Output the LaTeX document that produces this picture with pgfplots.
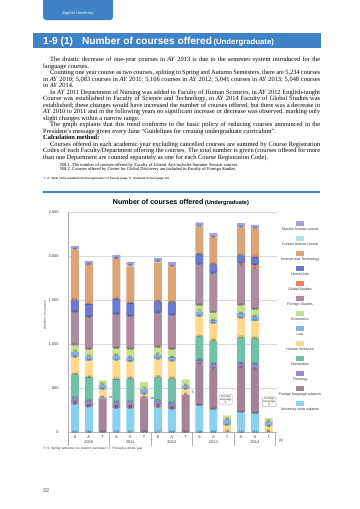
\documentclass[border=0pt]{standalone}
\usepackage{pgfplots}
\pgfplotsset{compat=1.18}
\usepackage{pgfplotstable}
\usepackage{fontspec}
\setmainfont{Liberation Serif}
\setsansfont{Liberation Sans}
\newfontfamily\cjk{Noto Sans CJK JP}
\newcommand\fsz[1]{\fontsize{#1}{#1}\selectfont}

\definecolor{hdr}{HTML}{3F82C5}
\definecolor{cUW}{HTML}{8AD0F0}
\definecolor{cFL}{HTML}{A68497}
\definecolor{cTH}{HTML}{9C8ACC}
\definecolor{cHUM}{HTML}{72C0AA}
\definecolor{cHS}{HTML}{FFD98C}
\definecolor{cLAW}{HTML}{8AB0E2}
\definecolor{cECO}{HTML}{C8E092}
\definecolor{cFS}{HTML}{AC8C9E}
\definecolor{cGS}{HTML}{F5805E}
\definecolor{cLA}{HTML}{6C7AD0}
\definecolor{cST}{HTML}{DBA476}
\definecolor{cCUR}{HTML}{B3E3EA}
\definecolor{cTEA}{HTML}{A6A3D6}

% x: 0,1,2 = 2010 S,A,T ; 3,4,5 = 2011 ; ... ; 12,13,14 = 2014
\pgfplotstableread{
x  uw  fl  th  hum hs  law eco fs  gs la  st  cur tea tot
0  310 27  46  273 198 58  78  370 0  136 571 8   40  2,115
1  280 27  45  272 186 48  80  366 0  150 443 3   45  1,945
2  0   378 16  0   88  55  50  0   0  0   0   0   0   587
3  270 26  38  269 212 52  84  388 0  170 455 4   45  2,013
4  267 26  44  272 192 48  92  370 0  154 418 7   40  1,930
5  0   378 20  0   35  58  79  0   0  0   0   0   0   570
6  277 26  45  272 205 55  87  381 0  137 441 8   45  1,979
7  259 26  45  277 200 44  88  386 0  148 408 5   45  1,931
8  0   419 5   0   62  43  69  0   0  0   0   0   0   598
9  299 469 49  269 224 56  77  459 0  119 312 6   43  2,382
10 259 465 44  269 196 41  84  441 0  107 305 6   46  2,263
11 0   4   0   0   70  66  48  0   0  0   0   0   0   188
12 222 515 46  291 222 56  86  457 18 93  317 5   45  2,373
13 210 505 53  296 200 53  82  460 34 95  320 2   43  2,353
14 0   4   0   0   66  46  45  0   0  0   0   0   0   161
}\coursedata

\pgfplotsset{
  seg/.style 2 args={
    fill=#1, draw=none,
    visualization depends on={rawy \as \rawv},
    nodes near coords={\pgfmathtruncatemacro\vv{\rawv}\ifnum\vv>#2 \vv\fi},
    every node near coord/.append style={anchor=center, yshift={-0.044*\rawv*1bp},
      font=\sffamily\fsz{3.4}, text=black!80, inner sep=0pt},
  },
}

\begin{document}
\begin{tikzpicture}
\useasboundingbox (0,0) rectangle (360bp,-509bp);
\fill[white] (0,0) rectangle (360bp,-509bp);

% header tab
\fill[hdr, rounded corners=3bp] (43bp,6bp) rectangle (113bp,-20bp);
\node[text=white, font=\sffamily\fsz{4}] at (78bp,-13.5bp) {Sophia University};

% title bar
\fill[hdr] (33bp,-32.5bp) rectangle (321bp,-47.5bp);
\node[anchor=base west, inner sep=0pt, text=white, font=\sffamily\bfseries\fsz{10.2}] at (43bp,-44bp)
  {1-9 (1)\hspace{9bp}Number of courses offered\hspace{1.5bp}{\fsz{7.8}(Undergraduate)}};

% body text
\node[anchor=north west, inner sep=0pt, text width=277bp, align=justify,
      font=\fontsize{6.45}{6.55}\selectfont] at (43bp,-56.8bp) {%
\hyphenpenalty=10000 \exhyphenpenalty=10000 \emergencystretch=20bp
\setlength{\parindent}{7bp}\strut
\hspace*{7bp}The drastic decrease of one-year courses in \textit{AY} 2013 is due to the semester system introduced for the language courses.\par
Counting one year course as two courses, spliting to Spring and Autumn Semesters, there are 5,234 courses in \textit{AY} 2010; 5,083 courses in \textit{AY} 2011; 5,106 courses in \textit{AY} 2012; 5,041 courses in \textit{AY} 2013; 5,048 courses in \textit{AY} 2014.\par
In \textit{AY} 2011 Department of Nursing was added to Faculty of Human Sciences, in \textit{AY} 2012 English-taught Course was established in Faculty of Science and Technology, in \textit{AY} 2014 Faculty of Global Studies was established; these changes would have increased the number of courses offered, but there was a decrease in \textit{AY} 2010 to 2011 and in the following years no significant increase or decrease was observed, marking only slight changes within a narrow range.\par
The graph explains that this trend conforms to the basic policy of reducing courses announced in the President’s message given every June “Guidelines for creating undergraduate curriculum”.\par
\noindent\textbf{Calculation method:}\par
Courses offered in each academic year excluding cancelled courses are summed by Course Registration Codes of each Faculty/Department offering the courses. The total number is given (courses offered for more than one Department are counted separately as one for each Course Registration Code).\par}; 

\node[anchor=base west, inner sep=0pt, font=\fsz{4.5}] at (60bp,-166.3bp)
  {NB.1. The number of courses offered by Faculty of Liberal Arts includes Summer Session courses.};
\node[anchor=base west, inner sep=0pt, font=\fsz{4.5}] at (60bp,-170.8bp)
  {NB.2. Courses offered by Center for Global Discovery are included in Faculty of Foreign Studies.};
\node[anchor=base west, inner sep=0pt, font=\sffamily\fsz{3}] at (43bp,-179bp)
  {{\cjk ※} cf. State of the establishment/reorganization of Faculty (page 7), Graduate School (page 16).};

% chart frame line and title
\draw[hdr, line width=1.2bp] (43bp,-192bp) -- (320bp,-192bp);
\node[anchor=base, inner sep=0pt, font=\sffamily\bfseries\fsz{7.1}] at (181bp,-204bp)
  {Number of courses offered\hspace{1.5bp}{\fsz{5.7}(Undergraduate)}};

\begin{axis}[
  at={(68bp,-432bp)}, anchor=south west,
  scale only axis, width=209bp, height=220bp,
  ybar stacked, bar width=8bp,
  xmin=-0.5, xmax=14.6, ymin=0, ymax=2500,
  ytick={0,500,1000,1500,2000,2500},
  ymajorgrids, grid style={gray!30, line width=0.4pt},
  axis x line*=bottom, axis y line*=left,
  axis line style={gray!60, line width=0.4pt, -},
  major tick length=0pt,
  xtick={0,...,14},
  xticklabels={S,A,T,S,A,T,S,A,T,S,A,T,S,A,T},
  extra x ticks={-0.5,2.5,5.5,8.5,11.5,14.5},
  extra x tick labels={},
  extra x tick style={major tick length=14bp, tick align=outside, tick style={gray!60, line width=0.4pt}},
  /pgf/number format/assume math mode=true,
  xticklabel style={font=\sffamily\fsz{4}, text=black!80, yshift=-0.5bp},
  yticklabel style={font=\sffamily\fsz{4}, text=black!80, xshift=-6bp, /pgf/number format/1000 sep={,}},
  ylabel={(Number of courses)},
  every axis y label/.style={at={(axis description cs:-0.11,0.53)}, rotate=90, anchor=center,
     font=\sffamily\fsz{3.2}, text=black!70},
  clip=false,
]
\addplot[seg={cUW}{15}]   table[x=x,y=uw]{\coursedata};
\addplot[seg={cFL}{15}]   table[x=x,y=fl]{\coursedata};
\addplot[seg={cTH}{25}]   table[x=x,y=th]{\coursedata};
\addplot[seg={cHUM}{15}]  table[x=x,y=hum]{\coursedata};
\addplot[seg={cHS}{15}]   table[x=x,y=hs]{\coursedata};
\addplot[seg={cLAW}{15}]  table[x=x,y=law]{\coursedata};
\addplot[seg={cECO}{15}]  table[x=x,y=eco]{\coursedata};
\addplot[seg={cFS}{15}]   table[x=x,y=fs]{\coursedata};
\addplot[seg={cGS}{15}, every node near coord/.append style={font=\sffamily\fsz{2.8}}]   table[x=x,y=gs]{\coursedata};
\addplot[seg={cLA}{15}]   table[x=x,y=la]{\coursedata};
\addplot[seg={cST}{15}]   table[x=x,y=st]{\coursedata};
\addplot[seg={cCUR}{999}] table[x=x,y=cur]{\coursedata};
\addplot[seg={cTEA}{15}]  table[x=x,y=tea]{\coursedata};
% totals on top of each stack
\addplot[draw=none, fill=none, point meta=explicit symbolic, nodes near coords,
  every node near coord/.append style={anchor=south, font=\sffamily\bfseries\fsz{5.2}, inner sep=0.8bp}]
  table[x=x, y expr=0, meta=tot]{\coursedata};

\node[font=\sffamily\fsz{4}, text=black!80] at (axis cs:1,0) [yshift=-10.5bp] {2010};
\node[font=\sffamily\fsz{4}, text=black!80] at (axis cs:4,0) [yshift=-10.5bp] {2011};
\node[font=\sffamily\fsz{4}, text=black!80] at (axis cs:7,0) [yshift=-10.5bp] {2012};
\node[font=\sffamily\fsz{4}, text=black!80] at (axis cs:10,0) [yshift=-10.5bp] {2013};
\node[font=\sffamily\fsz{4}, text=black!80] at (axis cs:13,0) [yshift=-10.5bp] {2014};

\node[draw=gray!70, fill=white, rounded corners=1bp, align=center, inner sep=0.8bp,
  font=\sffamily\fsz{2.9}, text=black!80] at (axis cs:10.9,370) {Foreign\\language\\4};
\node[draw=gray!70, fill=white, rounded corners=1bp, align=center, inner sep=0.8bp,
  font=\sffamily\fsz{2.9}, text=black!80] at (axis cs:14.05,345) {Foreign\\language\\4};
\node[font=\sffamily\fsz{3.4}, text=black!80] at (axis cs:2.6,390) {16};
\node[font=\sffamily\fsz{3.4}, text=black!80] at (axis cs:5.6,380) {20};
\node[font=\sffamily\fsz{3.4}, text=black!80] at (axis cs:8.55,450) {5};
\end{axis}

\node[font=\sffamily\fsz{3.5}, text=black!80] at (281bp,-441bp) {(\#)};

% legend
\foreach \c/\t [count=\i from 0] in {cTEA/Teacher license course, cCUR/Curator license course,
   cST/Science and Technology, cLA/Liberal Arts, cGS/Global Studies, cFS/Foreign Studies,
   cECO/Economics, cLAW/Law, cHS/Human Sciences, cHUM/Humanities, cTH/Theology,
   cFL/Foreign language subjects, cUW/University-wide subjects}{
  \fill[\c] (296bp,{-(220.5+15*\i)*1bp}) rectangle ++(8bp,-5bp);
  \node[anchor=base, inner sep=0pt, font=\sffamily\fsz{3.6}, text=black!80] at (300bp,{-(230.3+15*\i)*1bp}) {\t};
}

\node[anchor=base west, inner sep=0pt, font=\sffamily\fsz{3.2}, text=black!80] at (43bp,-449.5bp)
  {{\cjk ※} S: Spring semester / A: Autumn semester / T: Through a whole year};
\node[anchor=base west, inner sep=0pt, font=\sffamily\fsz{5.5}, text=black!70] at (43bp,-492bp) {32};
\end{tikzpicture}
\end{document}
